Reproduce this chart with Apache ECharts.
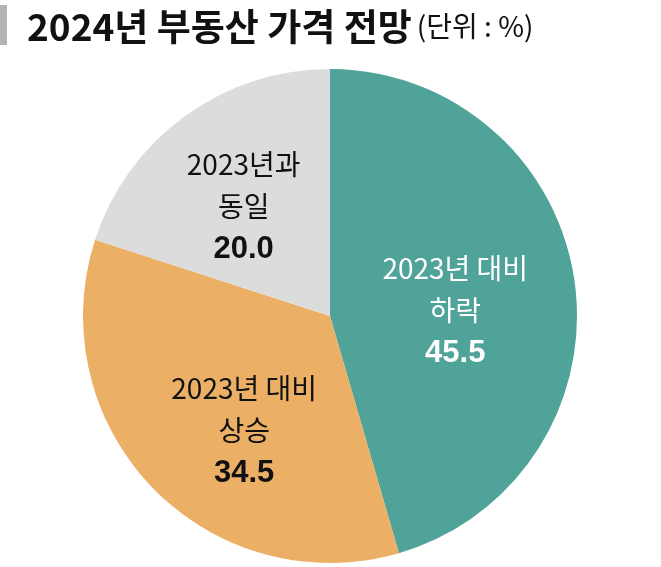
<!DOCTYPE html>
<html>
<head>
<meta charset="utf-8">
<script src="https://cdn.jsdelivr.net/npm/echarts@6/dist/echarts.min.js"></script>
<style>
html, body { margin: 0; padding: 0; background: #fff; }
#main { width: 661px; height: 567px; }
</style>
</head>
<body>
<div id="main"></div>
<script>
var names = ['2023년 대비\n하락', '2023년 대비\n상승', '2023년과\n동일'];
var values = [45.5, 34.5, 20.0];
var colors = ['#4fa398', '#ebb066', '#dcdcdc'];
var textColors = ['#ffffff', '#111111', '#111111'];
// nudges for the inside labels (px)
var labelShift = [[0, 13], [5, 27], [-12, -6]];

var myChart = echarts.init(document.getElementById('main'));

var pieData = [];
for (var i = 0; i < names.length; i++) {
    pieData.push({
        name: names[i],
        value: values[i],
        itemStyle: { color: colors[i] },
        label: {
            color: textColors[i],
            rich: {
                t: { fontSize: 28, lineHeight: 42, color: textColors[i], fontFamily: 'Noto Sans CJK KR' },
                v: { fontSize: 31, fontWeight: 'bold', lineHeight: 44, color: textColors[i], fontFamily: 'Liberation Sans' }
            }
        }
    });
}

var option = {
    animation: false,
    title: {
        text: '{a|2024년 부동산 가격 전망} {b|(단위 : %)}',
        left: 22,
        top: 3,
        textStyle: {
            rich: {
                a: { fontSize: 37, fontWeight: 'bold', color: '#111', fontFamily: 'Noto Sans CJK KR' },
                b: { fontSize: 28, fontWeight: 'normal', color: '#111', fontFamily: 'Noto Sans CJK KR' }
            }
        }
    },
    graphic: [{
        type: 'rect',
        shape: { x: 0, y: 5, width: 7, height: 40 },
        style: { fill: '#b4b4b4' }
    }],
    series: [{
        type: 'pie',
        center: [330, 316],
        radius: [0, 247],
        startAngle: 90,
        clockwise: true,
        silent: true,
        label: {
            show: true,
            position: 'inside',
            formatter: function (p) {
                var lines = p.name.split('\n');
                return lines.map(function (s) { return '{t|' + s + '}'; }).join('\n') +
                    '\n{v|' + p.value.toFixed(1) + '}';
            }
        },
        labelLayout: function (params) {
            var s = labelShift[params.dataIndex];
            return { dx: s[0], dy: s[1] };
        },
        labelLine: { show: false },
        data: pieData
    }]
};

myChart.setOption(option);
</script>
</body>
</html>
